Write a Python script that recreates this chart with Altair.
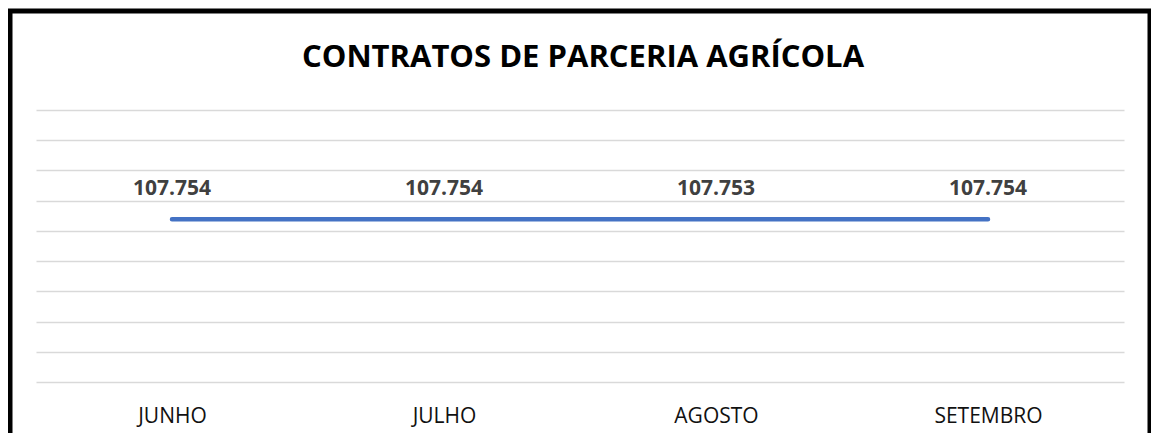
import altair as alt
import pandas as pd

titulo = "CONTRATOS DE PARCERIA AGRÍCOLA"
meses = ["JUNHO", "JULHO", "AGOSTO", "SETEMBRO"]
contratos = [107754, 107754, 107753, 107754]
y_ticks = [0, 20000, 40000, 60000, 80000, 100000, 120000, 140000, 160000, 180000]

df = pd.DataFrame({"mes": meses, "valor": contratos})

W, H = 1088, 272

x_enc = alt.X(
    "mes:N",
    sort=meses,
    scale=alt.Scale(type="point", padding=0.5),
    axis=alt.Axis(
        title=None, domain=False, ticks=False, tickSize=0, grid=False,
        labelFont="Open Sans", labelFontSize=21, labelColor="#111111",
        labelAngle=0, labelBaseline="alphabetic", labelPadding=40,
    ),
)
y_enc = alt.Y(
    "valor:Q",
    scale=alt.Scale(domain=[0, 180000], nice=False, zero=True),
    axis=alt.Axis(
        title=None, values=y_ticks, labels=False, ticks=False, domain=False,
        grid=True, gridColor="#d9d9d9", gridWidth=1.3,
    ),
)

line = alt.Chart(df).mark_line(
    color="#4472C4", strokeWidth=4.5, strokeCap="round"
).encode(x=x_enc, y=y_enc)

labels = alt.Chart(df).transform_calculate(
    rotulo="replace(format(datum.valor, ','), ',', '.')"
).mark_text(
    font="Open Sans", fontSize=21, fontWeight="bold", color="#404040",
    dy=-24, baseline="alphabetic",
).encode(x=x_enc, y=y_enc, text="rotulo:N")

title_mark = alt.Chart(df).transform_filter(
    alt.datum.mes == meses[0]
).mark_text(
    font="Open Sans", fontSize=31, fontWeight="bold", color="black",
    baseline="alphabetic", align="center", clip=False,
).encode(x=alt.value(W / 2 + 3), y=alt.value(-43), text=alt.value(titulo))

frame = alt.Chart(df).transform_filter(
    alt.datum.mes == meses[0]
).mark_rect(
    fill=None, stroke="black", strokeWidth=5, clip=False
).encode(
    x=alt.value(-26), x2=alt.value(1114),
    y=alt.value(-99), y2=alt.value(400),
)

chart = alt.layer(line, labels, title_mark, frame).properties(
    width=W, height=H,
    background="white",
    autosize=alt.AutoSizeParams(type="none"),
    padding={"left": 28, "top": 102, "right": 27, "bottom": 51},
).configure_view(stroke="transparent", strokeWidth=0)

chart.save("out.html", embed_options={"renderer": "svg", "actions": False})
